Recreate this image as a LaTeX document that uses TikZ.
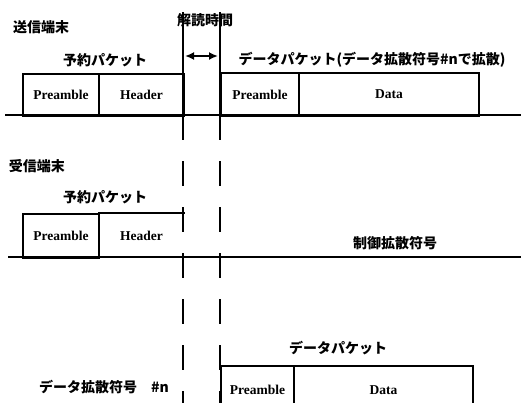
\documentclass[tikz,border=0pt]{standalone}
\usepackage{fontspec}
\setmainfont{Liberation Serif}
\newfontfamily\jp{Noto Sans CJK JP}
\usetikzlibrary{arrows.meta}
\begin{document}
\begin{tikzpicture}[x=1pt,y=-1pt,
  field/.style={draw,line width=2pt,anchor=north west,inner sep=0pt,font=\bfseries\fontsize{13.5}{13.5}\selectfont},
  openfield/.style={field,draw=none},
  jlabel/.style={font=\jp\bfseries\fontsize{14}{14}\selectfont,inner sep=0pt},
  base/.style={line width=2.4pt},
  guide/.style={line width=2.2pt},
  dguide/.style={line width=2.2pt,dash pattern=on 25pt off 21pt},
  edge/.style={line width=2pt}]
\useasboundingbox (0,0) rectangle (521,402);
\clip (0,0) rectangle (521,402);
% baselines
\coordinate (b1L) at (5,115); \coordinate (b1R) at (521,115);
\coordinate (b2L) at (8,257); \coordinate (b2R) at (521,257);
\draw[base] (b1L) -- (b1R);
\draw[base] (b2L) -- (b2R);
% sender fields
\node[field,minimum width=76pt,minimum height=42pt] (sPre) at (22,73) {Preamble};
\node[field,minimum width=85pt,minimum height=42pt] (sHdr) at (98,73) {Header};
\node[field,minimum width=78pt,minimum height=43pt] (sDPre) at (220,72) {Preamble};
\node[field,minimum width=180pt,minimum height=43pt] (sData) at (298,72) {Data};
% receiver fields
\node[field,minimum width=76pt,minimum height=44pt] (rPre) at (22,213) {Preamble};
\node[openfield,minimum width=85pt,minimum height=44pt] (rHdr) at (98,213) {Header};
\draw[edge] (rHdr.north west) -- (rHdr.north east);
% bottom data packet
\node[field,minimum width=73pt,minimum height=48pt] (dPre) at (220,365) {Preamble};
\node[field,minimum width=179pt,minimum height=48pt] (dData) at (293,365) {Data};
% timing guides
\coordinate (L0) at (183,12); \coordinate (L1) at (183,115); \coordinate (L2) at (183,410);
\coordinate (R0) at (220,12); \coordinate (R1) at (220,115); \coordinate (R2) at (220,410);
\draw[guide] (L0) -- (L1);
\draw[guide] (R0) -- (R1);
\draw[dguide] (L1) -- (L2);
\draw[dguide] (R1) -- (R2);
\coordinate (aL) at (185,56); \coordinate (aR) at (218,56);
\draw[line width=1.8pt,{Latex[length=9pt,width=8pt]}-{Latex[length=9pt,width=8pt]}] (aL) -- (aR);
% labels
\node[jlabel] (sTerm) at (41,27) {送信端末};
\node[jlabel] (decode) at (205,20) {解読時間};
\node[jlabel] (sRes) at (105,60) {予約パケット};
\node[jlabel] (sDataLbl) at (372,60) {データパケット(データ拡散符号\#nで拡散)};
\node[jlabel] (rTerm) at (37,166) {受信端末};
\node[jlabel] (rRes) at (105,197) {予約パケット};
\node[jlabel] (ctrl) at (395,243) {制御拡散符号};
\node[jlabel] (dLbl) at (338,348) {データパケット};
\node[jlabel] (dCode) at (104,387) {データ拡散符号\quad\#n};
\end{tikzpicture}
\end{document}
